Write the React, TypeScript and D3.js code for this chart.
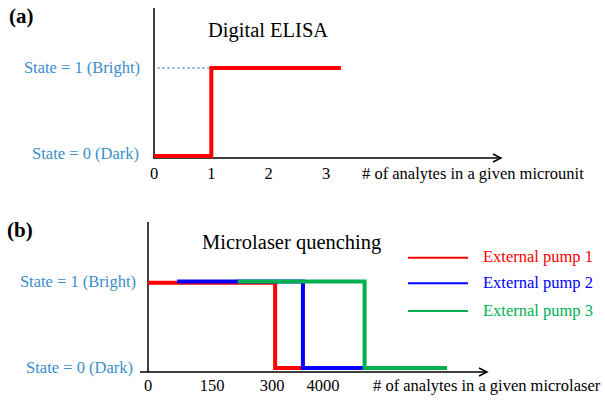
import React from "react";
import * as d3 from "d3";

// Panel (a) data
const aTickValues = [0, 1, 2, 3];
const aTickLabels = ["0", "1", "2", "3"];
const aStep: [number, number][] = [
  [0, 0],
  [1, 0],
  [1, 1],
  [3.26, 1],
];
const stateLabels = ["State = 0 (Dark)", "State = 1 (Bright)"];

// Panel (b) data (x in arbitrary axis units 0..100)
const bTickValues = [0, 18.9, 36.6, 51.6];
const bTickLabels = ["0", "150", "300", "4000"];
const pumpNames = ["External pump 1", "External pump 2", "External pump 3"];
const pumpColors = ["#ff0000", "#0000ff", "#00b050"];
const pumpLegendY = [257.7, 283.3, 311];
const pump1: [number, number][] = [
  [0, 0.985],
  [37.5, 0.985],
  [37.5, 0],
  [46, 0],
];
const pump2: [number, number][] = [
  [8.6, 1],
  [45.7, 1],
  [45.7, 0],
  [63.8, 0],
];
const pump3: [number, number][] = [
  [26.5, 1],
  [63.9, 1],
  [63.9, 0],
  [88.2, 0],
];
const pumps = [pump1, pump2, pump3];

const labelBlue = "#3a8ecb";
const font = "'Liberation Serif', 'Times New Roman', serif";

export default function App() {
  // scales panel a
  const xa = d3.scaleLinear().domain([0, 6]).range([154, 498]);
  const ya = d3.scaleLinear().domain([0, 1]).range([156, 68]);
  // scales panel b
  const xb = d3.scaleLinear().domain([0, 100]).range([148, 487]);
  const yb = d3.scaleLinear().domain([0, 1]).range([368, 281.5]);

  const lineA = d3
    .line<[number, number]>()
    .x((d) => xa(d[0]))
    .y((d) => ya(d[1]));
  const lineB = d3
    .line<[number, number]>()
    .x((d) => xb(d[0]))
    .y((d) => yb(d[1]));

  const fs = 16.5;

  return (
    <svg
      width={605}
      height={401}
      style={{ position: "absolute", left: 0, top: 0, background: "#fff" }}
      fontFamily={font}
    >
      {/* ---------- Panel (a) ---------- */}
      <text x={9} y={23} fontSize={21} fontWeight="bold" fill="#000">
        (a)
      </text>
      <text x={208} y={37} fontSize={20.5} fill="#000">
        Digital ELISA
      </text>
      {/* axes */}
      <line x1={154} y1={8} x2={154} y2={158} stroke="#000" strokeWidth={1.5} />
      <line x1={153} y1={158} x2={501} y2={158} stroke="#000" strokeWidth={1.5} />
      <path d="M493,154 L501,158 L493,162" fill="none" stroke="#000" strokeWidth={1.5} />
      {/* dashed guide */}
      <line
        x1={157}
        y1={ya(1)}
        x2={xa(1)}
        y2={ya(1)}
        stroke={labelBlue}
        strokeWidth={1}
        strokeDasharray="3,2"
      />
      <path d={lineA(aStep) || ""} fill="none" stroke="#ff0000" strokeWidth={4} />
      {/* y labels */}
      <text x={140} y={73} fontSize={fs} fill={labelBlue} textAnchor="end">
        {stateLabels[1]}
      </text>
      <text x={139} y={159} fontSize={fs} fill={labelBlue} textAnchor="end">
        {stateLabels[0]}
      </text>
      {/* x ticks */}
      {aTickValues.map((v, i) => (
        <text key={i} x={xa(v)} y={179} fontSize={fs} textAnchor="middle" fill="#000">
          {aTickLabels[i]}
        </text>
      ))}
      <text x={362} y={179} fontSize={fs} fill="#000">
        # of analytes in a given microunit
      </text>

      {/* ---------- Panel (b) ---------- */}
      <text x={7} y={237} fontSize={21} fontWeight="bold" fill="#000">
        (b)
      </text>
      <text x={202} y={249} fontSize={20.5} fill="#000">
        Microlaser quenching
      </text>
      <line x1={148} y1={222} x2={148} y2={372} stroke="#000" strokeWidth={1.5} />
      <line x1={140} y1={372} x2={487} y2={372} stroke="#000" strokeWidth={1.5} />
      <path d="M479,368 L487,372 L479,376" fill="none" stroke="#000" strokeWidth={1.5} />
      {pumps.map((p, i) => (
        <path key={i} d={lineB(p) || ""} fill="none" stroke={pumpColors[i]} strokeWidth={4} />
      ))}
      <text x={136} y={287} fontSize={fs} fill={labelBlue} textAnchor="end">
        {stateLabels[1]}
      </text>
      <text x={133} y={373} fontSize={fs} fill={labelBlue} textAnchor="end">
        {stateLabels[0]}
      </text>
      {bTickValues.map((v, i) => (
        <text key={i} x={xb(v)} y={391} fontSize={fs} textAnchor="middle" fill="#000">
          {bTickLabels[i]}
        </text>
      ))}
      <text x={373} y={391} fontSize={fs} fill="#000">
        # of analytes in a given microlaser
      </text>
      {/* legend */}
      {pumpNames.map((n, i) => (
        <g key={i}>
          <line
            x1={408}
            x2={468}
            y1={pumpLegendY[i]}
            y2={pumpLegendY[i]}
            stroke={pumpColors[i]}
            strokeWidth={2}
          />
          <text x={483} y={pumpLegendY[i] + 4.5} fontSize={fs} fill={pumpColors[i]}>
            {n}
          </text>
        </g>
      ))}
    </svg>
  );
}
